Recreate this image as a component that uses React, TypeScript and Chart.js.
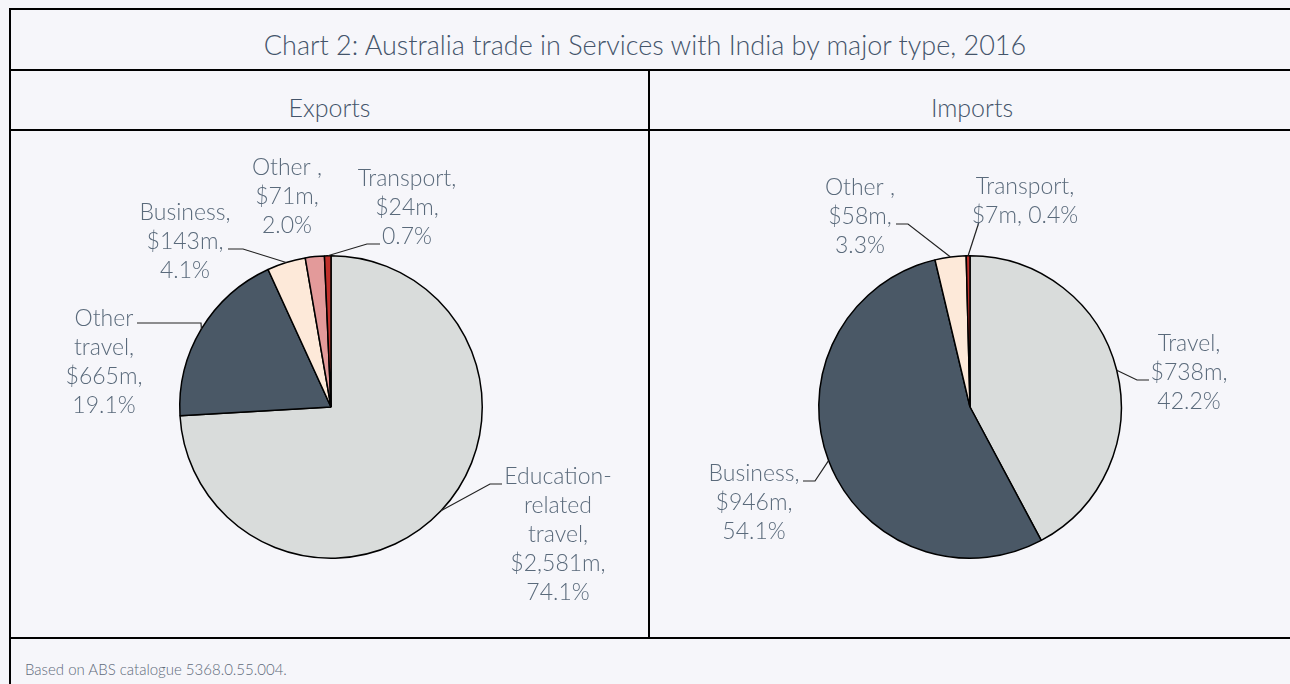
import React, { useEffect, useRef } from "react";
import { Chart, registerables } from "chart.js";

Chart.register(...registerables);

// ---- Data ----
const exportCategories = ["Education-\nrelated\ntravel", "Other\ntravel", "Business", "Other ", "Transport"];
const exportValues = [2581, 665, 143, 71, 24];
const exportColors = ["#d9dcdb", "#4a5866", "#fde9d9", "#e39a9a", "#c0302b"];

const importCategories = ["Travel", "Business", "Other ", "Transport"];
const importValues = [738, 946, 58, 7];
const importColors = ["#d9dcdb", "#4a5866", "#fde9d9", "#c0302b"];

const titleText = "Chart 2: Australia trade in Services with India by major type, 2016";
const exportsHeader = "Exports";
const importsHeader = "Imports";
const footerText = "Based on ABS catalogue 5368.0.55.004.";

// ---- Label layout (offsets relative to pie centre, px) ----
type LabelLayout = {
  dx: number;
  dy: number;
  sep: string;
  leader: number[][] | null; // elbow & end points relative to centre
};

const exportLabelLayout: LabelLayout[] = [
  { dx: 227, dy: 128, sep: "\n", leader: [[159, 77], [171, 77]] },
  { dx: -227, dy: -45, sep: "\n", leader: [[-130, -84], [-194, -84]] },
  { dx: -146, dy: -165, sep: "\n", leader: [[-88, -158], [-103, -158]] },
  { dx: -44, dy: -210, sep: "\n", leader: null },
  { dx: 76, dy: -199, sep: "\n", leader: [[36, -163], [49, -163]] },
];

const importLabelLayout: LabelLayout[] = [
  { dx: 219, dy: -34, sep: "\n", leader: [[167, -27], [179, -27]] },
  { dx: -216, dy: 96, sep: "\n", leader: [[-155, 74], [-167, 74]] },
  { dx: -110, dy: -190, sep: "\n", leader: [[-62, -183], [-74, -183]] },
  { dx: 55, dy: -206, sep: " ", leader: [[9, -185], [9, -185]] },
];

const BG = "#f6f6fa";
const TEXT_DARK = "#44546a";
const TEXT_LABEL = "#5a6a7b";
const FONT = "Lato, 'Open Sans', sans-serif";

const fmt = (v: number) => v.toLocaleString("en-US");

const pieLabelPlugin = {
  id: "pieLabels",
  afterDatasetsDraw(chart: any, _args: any, opts: any) {
    const { ctx } = chart;
    const meta = chart.getDatasetMeta(0);
    const values: number[] = chart.data.datasets[0].data;
    const cats: string[] = chart.data.labels;
    const total = values.reduce((a, b) => a + b, 0);
    const layout: LabelLayout[] = opts.layout;
    ctx.save();
    meta.data.forEach((arc: any, i: number) => {
      const p = arc.getProps(["x", "y", "startAngle", "endAngle", "outerRadius"], true);
      const lay = layout[i];
      const mid = (p.startAngle + p.endAngle) / 2;
      if (lay.leader) {
        ctx.beginPath();
        ctx.strokeStyle = "#222222";
        ctx.lineWidth = 1.2;
        ctx.moveTo(p.x + Math.cos(mid) * p.outerRadius, p.y + Math.sin(mid) * p.outerRadius);
        lay.leader.forEach((pt) => ctx.lineTo(p.x + pt[0], p.y + pt[1]));
        ctx.stroke();
      }
      const pct = ((values[i] / total) * 100).toFixed(1);
      const text = `${cats[i]},\n$${fmt(values[i])}m,${lay.sep}${pct}%`;
      const lines = text.split("\n");
      ctx.fillStyle = TEXT_LABEL;
      ctx.font = `300 ${opts.fontSize}px ${FONT}`;
      ctx.textAlign = "center";
      ctx.textBaseline = "middle";
      const lh = opts.lineHeight;
      lines.forEach((ln, k) => {
        ctx.fillText(ln, p.x + lay.dx, p.y + lay.dy + (k - (lines.length - 1) / 2) * lh);
      });
    });
    ctx.restore();
  },
};

function PieChart(props: {
  labels: string[];
  values: number[];
  colors: string[];
  layout: LabelLayout[];
  width: number;
  height: number;
  padding: { left: number; right: number; top: number; bottom: number };
  style: React.CSSProperties;
}) {
  const ref = useRef<HTMLCanvasElement | null>(null);
  useEffect(() => {
    if (!ref.current) return;
    const chart = new Chart(ref.current, {
      type: "pie",
      data: {
        labels: props.labels,
        datasets: [
          {
            data: props.values,
            backgroundColor: props.colors,
            borderColor: "#000000",
            borderWidth: 1.5,
          },
        ],
      },
      options: {
        responsive: false,
        animation: false,
        layout: { padding: props.padding },
        plugins: {
          legend: { display: false },
          tooltip: { enabled: false },
          pieLabels: { layout: props.layout, fontSize: 23, lineHeight: 29 },
        } as any,
      },
      plugins: [pieLabelPlugin],
    });
    return () => chart.destroy();
  }, []);
  return <canvas ref={ref} width={props.width} height={props.height} style={props.style} />;
}

const line = (s: React.CSSProperties): React.CSSProperties => ({
  position: "absolute",
  background: "#000",
  ...s,
});

export default function App() {
  return (
    <div
      style={{
        position: "fixed",
        left: 0,
        top: 0,
        width: 1290,
        height: 684,
        background: BG,
        overflow: "hidden",
        fontFamily: FONT,
      }}
    >
      {/* table borders */}
      <div style={line({ left: 9, top: 8, width: 1300, height: 2 })} />
      <div style={line({ left: 9, top: 8, width: 2, height: 700 })} />
      <div style={line({ left: 9, top: 69, width: 1300, height: 2 })} />
      <div style={line({ left: 9, top: 129, width: 1300, height: 2 })} />
      <div style={line({ left: 9, top: 637, width: 1300, height: 2 })} />
      <div style={line({ left: 648, top: 69, width: 2, height: 570 })} />

      {/* title and headers */}
      <div
        style={{
          position: "absolute",
          left: 0,
          width: 1290,
          top: 26,
          lineHeight: "38px",
          textAlign: "center",
          fontSize: 27,
          fontWeight: 300,
          color: TEXT_DARK,
          whiteSpace: "nowrap",
        }}
      >
        {titleText}
      </div>
      <div
        style={{
          position: "absolute",
          left: 11,
          width: 637,
          top: 89,
          lineHeight: "36px",
          textAlign: "center",
          fontSize: 25,
          fontWeight: 300,
          color: TEXT_DARK,
        }}
      >
        {exportsHeader}
      </div>
      <div
        style={{
          position: "absolute",
          left: 650,
          width: 644,
          top: 89,
          lineHeight: "36px",
          textAlign: "center",
          fontSize: 25,
          fontWeight: 300,
          color: TEXT_DARK,
        }}
      >
        {importsHeader}
      </div>

      <PieChart
        labels={exportCategories}
        values={exportValues}
        colors={exportColors}
        layout={exportLabelLayout}
        width={637}
        height={506}
        padding={{ left: 168, right: 165, top: 124, bottom: 78 }}
        style={{ position: "absolute", left: 11, top: 131 }}
      />
      <PieChart
        labels={importCategories}
        values={importValues}
        colors={importColors}
        layout={importLabelLayout}
        width={640}
        height={506}
        padding={{ left: 168, right: 168, top: 124, bottom: 78 }}
        style={{ position: "absolute", left: 650, top: 131 }}
      />

      <div
        style={{
          position: "absolute",
          left: 25,
          top: 657,
          lineHeight: "24px",
          fontSize: 15,
          fontWeight: 300,
          color: "#5f6b7a",
          whiteSpace: "nowrap",
        }}
      >
        {footerText}
      </div>
    </div>
  );
}
